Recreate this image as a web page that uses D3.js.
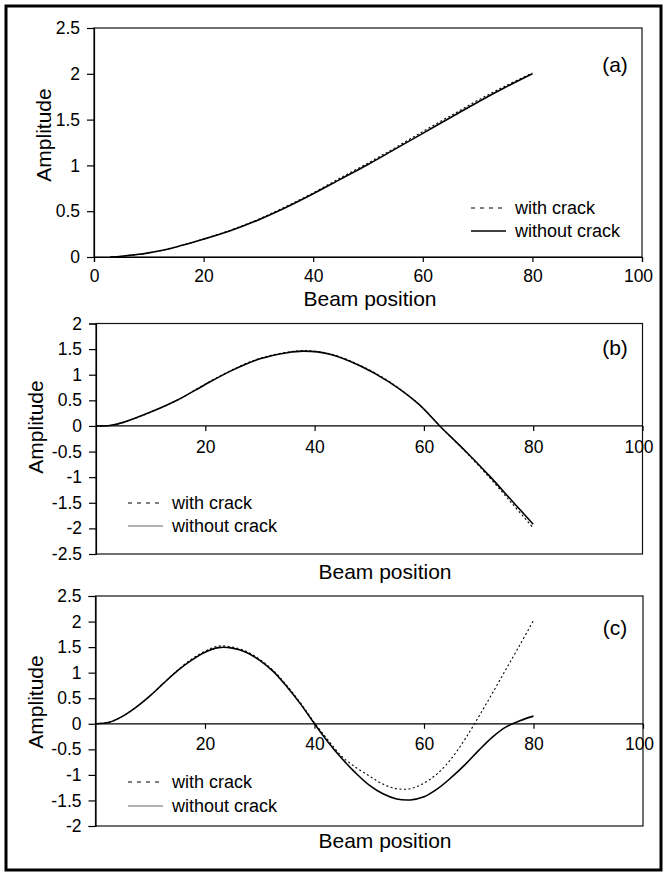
<!DOCTYPE html>
<html>
<head>
<meta charset="utf-8">
<script src="https://cdn.jsdelivr.net/npm/d3@7"></script>
<style>
  body { margin: 0; background: #fff; }
  svg text { font-family: "Liberation Sans", Arial, sans-serif; fill: #000; }
</style>
</head>
<body>
<div id="chart"></div>
<script>
// ---- data ----
var xA = [3, 5, 10, 15, 20, 25, 30, 35, 40, 45, 50, 55, 60, 65, 70, 75, 80];
var aWithout = [0, 0.008, 0.045, 0.11, 0.195, 0.29, 0.405, 0.54, 0.69, 0.85, 1.01, 1.18, 1.35, 1.52, 1.69, 1.85, 2.0];
var aWith    = [0, 0.008, 0.045, 0.11, 0.197, 0.295, 0.412, 0.55, 0.70, 0.865, 1.025, 1.195, 1.37, 1.54, 1.71, 1.865, 2.01];

var xB = [0, 2.5, 5, 10, 15, 20, 25, 30, 35, 38, 42.8, 48.2, 53.6, 59, 62.9, 67.5, 72.2, 76.1, 80];
var bWithout = [0, 0.01, 0.07, 0.27, 0.51, 0.81, 1.09, 1.31, 1.43, 1.46, 1.40, 1.18, 0.86, 0.43, 0, -0.48, -1.0, -1.46, -1.92];
var bWith    = [0, 0.01, 0.07, 0.27, 0.51, 0.82, 1.10, 1.32, 1.44, 1.47, 1.41, 1.19, 0.87, 0.43, 0, -0.49, -1.03, -1.51, -1.99];

var xC = [0, 2.5, 5, 7.5, 10, 12.5, 15, 17.5, 20, 22.5, 25, 27.5, 30, 32.5, 35, 37.5, 40,
          42.5, 45, 47.5, 50, 52.5, 55, 57.5, 60, 62.5, 65, 67.5, 70, 72.5, 75, 77.5, 80];
var cWithout = [0, 0.03, 0.15, 0.33, 0.55, 0.8, 1.04, 1.24, 1.4, 1.49, 1.48, 1.4, 1.24, 1.02, 0.72, 0.38, 0.0,
                -0.36, -0.68, -0.96, -1.2, -1.37, -1.47, -1.49, -1.43, -1.27, -1.05, -0.8, -0.52, -0.26, -0.06, 0.06, 0.15];
var cWith    = [0, 0.03, 0.15, 0.33, 0.55, 0.8, 1.05, 1.26, 1.42, 1.52, 1.5, 1.42, 1.26, 1.04, 0.74, 0.4, 0.02,
                -0.32, -0.64, -0.85, -1.02, -1.18, -1.27, -1.27, -1.16, -0.97, -0.68, -0.3, 0.14, 0.6, 1.07, 1.54, 2.02];

var xTicksA = [0, 20, 40, 60, 80, 100];
var xTicksBC = [20, 40, 60, 80, 100];
var yTicksA = [0, 0.5, 1, 1.5, 2, 2.5];
var yTicksB = [-2.5, -2, -1.5, -1, -0.5, 0, 0.5, 1, 1.5, 2];
var yTicksC = [-2, -1.5, -1, -0.5, 0, 0.5, 1, 1.5, 2, 2.5];
var seriesNames = ["with crack", "without crack"];

var svg = d3.select("#chart").append("svg")
    .attr("width", 663)
    .attr("height", 872);

// outer frame
svg.append("rect")
    .attr("x", 6).attr("y", 6)
    .attr("width", 655).attr("height", 864)
    .attr("fill", "none")
    .attr("stroke", "#000")
    .attr("stroke-width", 3);

function drawPanel(p) {
  var x = d3.scaleLinear().domain([0, 100]).range([p.left, p.right]);
  var y = d3.scaleLinear().domain(p.yDomain).range([p.bottom, p.top]);
  var g = svg.append("g");

  // box
  g.append("rect")
      .attr("x", p.left).attr("y", p.top)
      .attr("width", p.right - p.left).attr("height", p.bottom - p.top)
      .attr("fill", "none").attr("stroke", "#111").attr("stroke-width", 1.2);

  var yAxis = d3.axisLeft(y).tickValues(p.yTicks).tickSize(7).tickPadding(7)
      .tickFormat(function(d) { return String(d); });
  var ga = g.append("g").attr("transform", "translate(" + p.left + ",0)").call(yAxis);

  var xAxis = d3.axisBottom(x).tickValues(p.xTicks).tickSize(5).tickPadding(p.xPad)
      .tickFormat(function(d) { return String(d); });
  var gx = g.append("g").attr("transform", "translate(0," + y(0) + ")").call(xAxis);
  if (p.zeroLine) gx.select(".domain").attr("d", "M" + p.left + ",0H" + p.right);

  [ga, gx].forEach(function(s) {
    s.selectAll("text").style("font-size", "17.5px").attr("fill", "#000");
    s.selectAll("line, .domain").attr("stroke", "#000").attr("stroke-width", 1.2);
  });
  gx.selectAll(".tick:last-of-type text").attr("dx", "-4");

  var line = d3.line()
      .x(function(d) { return x(d[0]); })
      .y(function(d) { return y(d[1]); })
      .curve(d3.curveCatmullRom.alpha(0.5));

  g.append("path")
      .datum(p.xs.map(function(v, i) { return [v, p.without[i]]; }))
      .attr("d", line)
      .attr("fill", "none").attr("stroke", "#000").attr("stroke-width", 1.6);
  g.append("path")
      .datum(p.xs.map(function(v, i) { return [v, p.withC[i]]; }))
      .attr("d", line)
      .attr("fill", "none").attr("stroke", "#000").attr("stroke-width", 1.1)
      .attr("stroke-dasharray", "2,2.5");

  // legend
  var lg = g.append("g").attr("transform", "translate(" + p.legX + "," + p.legY + ")");
  seriesNames.forEach(function(name, i) {
    var yy = i * p.legGap;
    lg.append("line")
        .attr("x1", 0).attr("x2", 35).attr("y1", yy).attr("y2", yy)
        .attr("stroke", i === 0 ? "#000" : p.solidLegendColor)
        .attr("stroke-width", i === 0 ? 1.1 : 1.5)
        .attr("stroke-dasharray", i === 0 ? "4,5" : null);
    lg.append("text")
        .attr("x", 44).attr("y", yy).attr("dy", "0.35em")
        .style("font-size", "18px")
        .text(name);
  });

  // panel letter
  g.append("text")
      .attr("x", 615).attr("y", p.letterY)
      .attr("text-anchor", "middle")
      .style("font-size", "21px")
      .text(p.letter);

  // axis titles
  g.append("text")
      .attr("x", p.xLabelX).attr("y", p.xLabelY)
      .attr("text-anchor", "middle")
      .style("font-size", "21px")
      .text("Beam position");
  g.append("text")
      .attr("transform", "translate(" + p.yLabelX + "," + p.yLabelY + ") rotate(-90)")
      .attr("text-anchor", "middle")
      .style("font-size", "21px")
      .text("Amplitude");
}

drawPanel({
  left: 94, right: 642, top: 28, bottom: 257, yDomain: [0, 2.5],
  yTicks: yTicksA, xTicks: xTicksA, xPad: 8, zeroLine: false,
  xs: xA, without: aWithout, withC: aWith,
  legX: 471, legY: 208, legGap: 23, solidLegendColor: "#000",
  letter: "(a)", letterY: 72,
  xLabelX: 370, xLabelY: 306, yLabelX: 51, yLabelY: 135
});

drawPanel({
  left: 96, right: 642.5, top: 323.5, bottom: 554, yDomain: [-2.5, 2],
  yTicks: yTicksB, xTicks: xTicksBC, xPad: 10, zeroLine: true,
  xs: xB, without: bWithout, withC: bWith,
  legX: 128, legY: 503, legGap: 23, solidLegendColor: "#999",
  letter: "(b)", letterY: 355,
  xLabelX: 385, xLabelY: 579, yLabelX: 43, yLabelY: 427
});

drawPanel({
  left: 95.5, right: 643, top: 596, bottom: 826, yDomain: [-2, 2.5],
  yTicks: yTicksC, xTicks: xTicksBC, xPad: 9, zeroLine: true,
  xs: xC, without: cWithout, withC: cWith,
  legX: 128, legY: 782, legGap: 24, solidLegendColor: "#999",
  letter: "(c)", letterY: 635,
  xLabelX: 385, xLabelY: 848, yLabelX: 43, yLabelY: 702
});
</script>
</body>
</html>
